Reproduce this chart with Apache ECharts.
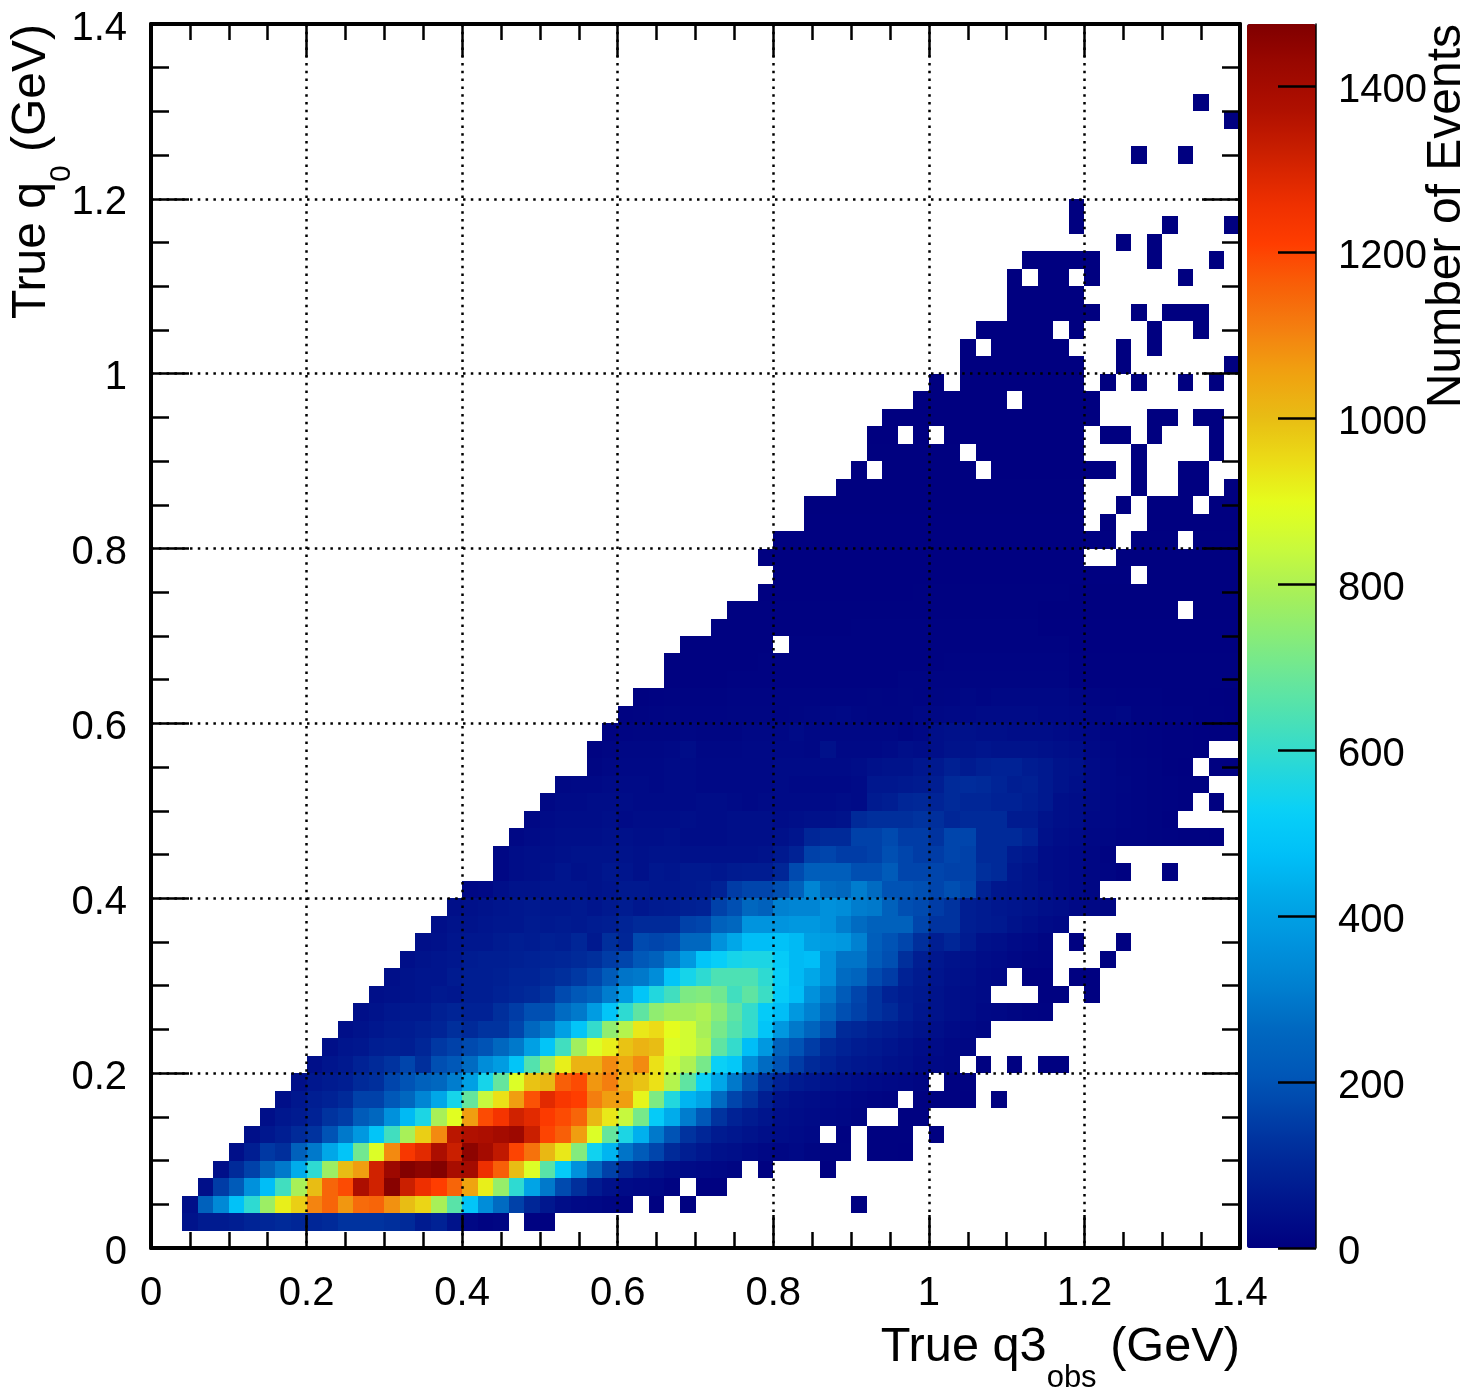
<!DOCTYPE html>
<html><head><meta charset="utf-8">
<style>html,body{margin:0;padding:0;background:#fff}#c{width:1466px;height:1396px}</style>
<script src="https://cdn.jsdelivr.net/npm/echarts@6/dist/echarts.min.js"></script>
</head><body><div id="c"></div>
<script>
// Bin width of the 2D histogram (GeV); each row is [startColumn, counts...] segments.
const binWidth = 0.02;
const row1 = [[2,50,70,70,80,95,100,110,100,100,110,130,130,130,120,110,70,90,50,20,10,15],[24,8,6]];
const row2 = [[2,40,240,340,480,590,770,920,970,1100,1150,1070,1140,1150,1080,1000,960,790,660,490,350,270,160,100,60,35,25,20,15,10],[32,5],[34,4],[45,3]];
const row3 = [[3,40,150,220,360,470,620,790,1000,1150,1190,1380,1310,1460,1320,1260,1210,1150,1050,920,760,590,410,300,180,120,70,45,30,25,20,10],[35,6,4]];
const row4 = [[4,40,110,160,240,300,430,590,770,1000,1060,1310,1420,1470,1450,1470,1390,1400,1260,1160,1000,880,660,510,360,260,160,100,70,50,35,30,25,20,15],[39,5],[43,3]];
const row5 = [[5,40,80,140,120,240,300,420,490,700,880,1090,1230,1280,1380,1320,1450,1400,1340,1200,1130,1010,930,730,540,450,290,220,170,110,80,60,45,40,30,20,18,25,15,10,10],[46,5,5,3]];
const row6 = [[6,40,60,80,110,130,200,300,380,490,620,790,970,1090,1350,1370,1380,1400,1420,1320,1200,1160,1060,880,680,560,440,300,200,130,100,70,60,50,40,35,30,25],[44,8],[46,6,5,4],[50,3]];
const row7 = [[7,40,60,70,90,130,150,220,260,360,460,560,790,890,1060,1190,1240,1310,1280,1220,1190,1150,1010,930,840,710,510,430,310,210,130,90,70,55,40,35,30,25,20,15],[48,5,5]];
const row8 = [[8,40,60,80,90,110,160,160,210,260,330,420,550,680,840,940,1060,1180,1280,1230,1210,1110,1060,1060,910,720,570,450,410,270,170,130,80,50,40,35,30,25,18,14,10],[49,5,5,4,3],[54,2]];
const row9 = [[9,40,60,70,80,110,120,170,200,240,260,310,400,550,680,880,990,1010,1160,1190,1070,1110,1020,990,940,810,670,530,420,300,190,130,90,70,60,50,45,35,30,25,20,15],[51,6,4]];
const row10 = [[10,40,55,65,90,110,130,170,120,190,210,270,350,390,490,650,780,920,1020,1020,1090,1040,1090,940,860,800,710,530,500,350,270,200,150,110,90,70,60,55,45,40,30,25,20],[53,6],[55,3],[57,3,3]];
const row11 = [[11,40,55,60,80,85,80,100,140,160,180,200,260,300,400,490,620,780,880,920,990,1020,1000,880,860,810,670,600,470,380,240,200,150,110,90,75,65,55,45,35,30,22,18]];
const row12 = [[12,40,50,60,70,75,85,95,120,110,130,130,170,260,300,400,490,600,750,810,930,950,900,860,790,710,650,600,490,380,300,250,190,110,100,85,75,60,50,40,30,25,18]];
const row13 = [[13,40,50,60,65,65,85,95,90,90,120,150,190,190,270,300,390,490,590,670,750,780,780,800,740,670,600,510,470,380,320,260,190,160,130,110,80,60,50,40,35,25,20,15,10,8]];
const row14 = [[14,40,45,50,55,65,60,80,80,90,100,110,130,180,210,240,310,390,490,570,620,720,730,700,620,670,610,510,470,360,300,220,170,130,90,75,65,50,40,35,30],[57,5,4],[60,3]];
const row15 = [[15,40,50,55,55,70,80,80,85,95,95,110,120,140,170,220,290,300,350,490,550,590,640,640,640,590,520,460,420,360,270,250,180,150,90,70,55,45,40,30,25],[56,6,5],[59,3,3]];
const row16 = [[16,40,50,55,60,75,80,80,85,90,95,100,110,120,150,170,210,240,300,380,490,520,550,560,560,510,460,470,360,290,290,220,190,120,80,60,50,45,35,30,20,15,12],[61,4]];
const row17 = [[17,40,45,55,60,60,70,80,75,85,80,100,65,120,100,180,170,180,260,260,360,420,470,470,480,460,400,390,380,320,230,200,170,120,80,100,70,45,40,30,25,15],[59,6],[62,3]];
const row18 = [[18,40,50,50,55,60,60,70,65,70,65,75,80,95,110,110,110,160,170,240,260,370,370,370,380,380,360,310,270,240,240,240,170,130,130,80,70,65,50,40,30,25]];
const row19 = [[19,40,45,50,55,60,65,60,60,65,55,65,75,60,70,75,85,90,160,190,260,240,320,330,330,360,350,310,300,240,190,180,150,130,80,70,60,55,50,40,35,25,20,15]];
const row20 = [[20,20,25,40,50,50,55,55,55,50,55,65,65,60,60,65,70,90,150,170,170,190,240,330,270,260,310,270,200,200,190,170,190,170,90,60,55,50,40,30,25,18]];
const row21 = [[22,20,35,40,45,55,45,50,60,55,45,60,55,65,65,60,70,75,75,100,180,230,230,230,190,190,220,170,170,170,160,160,120,110,60,50,35,30,25,18,12,6],[65,3]];
const row22 = [[22,20,35,40,40,45,50,50,50,50,45,50,50,45,45,45,45,45,50,65,90,160,170,150,150,160,190,170,150,150,170,160,110,110,70,60,35,30,25,18,10]];
const row23 = [[23,20,30,35,40,40,40,45,45,40,40,45,35,35,35,40,40,40,45,55,100,110,110,160,160,180,150,150,130,170,170,110,110,110,90,45,35,30,22,18,14,12,10,8,6,5,3]];
const row24 = [[24,20,30,35,35,35,40,30,35,35,35,40,35,35,40,40,40,35,40,45,45,50,110,120,120,120,130,120,100,110,110,110,70,70,50,40,35,25,20,16,12,10,6]];
const row25 = [[25,20,30,30,35,35,35,30,30,30,30,35,35,30,25,30,30,30,30,30,35,30,70,80,100,105,95,110,100,100,90,90,80,65,40,35,28,22,16,12,10,8,5],[68,3]];
const row26 = [[26,20,25,25,30,30,30,25,30,30,25,25,25,25,25,30,25,25,25,25,30,60,60,65,70,80,110,115,110,95,80,85,65,50,40,30,22,18,14,10,8,6,4]];
const row27 = [[28,15,20,25,25,25,30,30,25,25,25,25,25,30,30,30,30,30,35,45,50,50,60,65,85,70,85,90,90,75,65,50,45,30,20,15,12,10,6,3],[68,3,2]];
const row28 = [[28,10,15,20,20,20,25,35,20,20,20,25,25,25,25,20,45,25,25,25,30,40,35,40,50,50,55,50,50,50,45,40,35,25,18,14,10,8,6,4,3]];
const row29 = [[29,8,12,15,15,15,18,15,15,15,20,20,20,30,20,20,20,20,20,20,15,20,40,45,45,40,40,35,35,35,30,25,20,14,12,10,8,6,4,3,2,2]];
const row30 = [[30,8,10,12,15,12,12,12,15,15,15,12,15,18,22,25,18,15,15,15,20,20,25,25,30,30,30,30,25,25,20,18,16,20,10,10,8,8,5,4,3]];
const row31 = [[31,6,8,10,10,10,10,12,12,12,12,12,14,14,14,14,15,14,15,14,15,16,20,16,22,20,20,20,20,15,12,10,8,8,8,5,5,4,3,2]];
const lowerRows = {1:row1,2:row2,3:row3,4:row4,5:row5,6:row6,7:row7,8:row8,9:row9,10:row10,11:row11,12:row12,13:row13,14:row14,15:row15,16:row16,17:row17,18:row18,19:row19,20:row20,21:row21,22:row22,23:row23,24:row24,25:row25,26:row26,27:row27,28:row28,29:row29,30:row30,31:row31};
// Upper rows: nearly flat low counts, as [firstColumn, lastColumn, count] runs.
const upperRuns = {
32:[[33,36,6],[37,47,9],[48,58,13],[59,69,5]],
33:[[33,38,5],[39,50,8],[51,58,11],[59,69,4]],
34:[[34,39,4],[41,50,7],[51,58,9],[59,69,3]],
35:[[36,44,4],[45,56,7],[57,69,3]],
36:[[37,44,4],[45,56,5],[57,65,2],[67,69,2]],
37:[[39,48,3],[49,58,5],[59,69,2]],
38:[[40,62,3],[64,69,2]],
39:[[39,59,3],[62,69,2]],
40:[[40,61,3],[63,65,2],[67,69,2]],
41:[[42,59,3],[61,61,1],[64,69,1]],
42:[[42,59,2],[62,62,1],[64,66,1],[68,69,1]],
43:[[44,59,2],[63,63,1],[66,67,1],[69,69,1]],
44:[[45,45,1],[47,52,2],[54,61,1],[63,63,1],[66,67,1]],
45:[[46,51,2],[53,59,1],[63,63,1],[68,68,1]],
46:[[46,47,1],[49,49,1],[51,59,1],[61,62,1],[64,64,1],[68,68,1]],
47:[[47,60,1],[64,65,1],[67,68,1]],
48:[[49,54,1],[56,60,1]],
49:[[50,50,1],[52,59,1],[61,61,1],[63,63,1],[66,66,1],[68,68,1]],
50:[[52,59,1],[62,62,1],[69,69,1]],
51:[[52,52,1],[54,58,1],[62,62,1],[64,64,1]],
52:[[53,57,1],[59,59,1],[64,64,1],[67,67,1]],
53:[[55,60,1],[63,63,1],[65,67,1]],
54:[[55,59,1]],
55:[[55,55,1],[57,58,1],[60,60,1],[66,66,1]],
56:[[56,60,1],[64,64,1],[68,68,1]],
57:[[62,62,1],[64,64,1]],
58:[[59,59,1],[65,65,1],[69,69,1]],
59:[[59,59,1]],
62:[[63,63,1],[66,66,1]],
64:[[69,69,1]],
65:[[67,67,1]]
};
const paletteColors = ['#000080','#00148c','#002898','#0040a8','#0058b8','#0068c0','#0080d0','#0094de','#00a8e8','#00c0f8','#08d0f8','#28d8d8','#48e0b8','#68e69a','#88ec78','#a8f058','#c8fa3c','#e4ff1e','#ecdc16','#e8bc14','#f0a210','#f48010','#f86008','#ff3c00','#ec2e00','#cc2000','#b01000','#9c0800','#800000'];
const colorMax = 1475;

const cells = [];
for (const j in lowerRows) for (const seg of lowerRows[j]) seg.slice(1).forEach((v,k)=>{ if(v>0) cells.push([(seg[0]+k)*binWidth, (+j)*binWidth, v]); });
for (const j in upperRuns) for (const [a,b,v] of upperRuns[j]) for (let c=a;c<=b;c++) cells.push([c*binWidth,(+j)*binWidth,v]);

const font = 'Liberation Sans';
const labelStyle = {fontFamily:font,fontSize:40,color:'#000'};
const lowered = {v:{fontFamily:font,fontSize:40,color:'#000',lineHeight:49,verticalAlign:'bottom'}};
const lowerLabel = v=>'{v|'+v+'}';
const dotted = {show:true,lineStyle:{color:'#000',width:2.5,type:[2.5,5.3]},showMinLine:false,showMaxLine:false};
const line = {show:true,onZero:false,lineStyle:{color:'#000',width:4}};
const richX = {
  a:{fontFamily:font,fontSize:48.7,color:'#000',lineHeight:52,verticalAlign:'top'},
  b:{fontFamily:font,fontSize:31,color:'#000',lineHeight:71,verticalAlign:'bottom'}
};
const richY = {
  a:{fontFamily:font,fontSize:48,color:'#000',lineHeight:52,verticalAlign:'top'},
  b:{fontFamily:font,fontSize:30,color:'#000',lineHeight:69,verticalAlign:'bottom'}
};
const base = {type:'value',min:0,max:1.4,interval:0.2,z:5,axisLine:line};
const xTick = {show:true,inside:true,length:33,lineStyle:{color:'#000',width:2.5}};
const xMinor = {show:true,splitNumber:4,length:16,lineStyle:{color:'#000',width:2.5}};
const yTick = {show:true,inside:true,length:38,lineStyle:{color:'#000',width:2.5}};
const yMinor = {show:true,splitNumber:4,length:18,lineStyle:{color:'#000',width:2.5}};

const chart = echarts.init(document.getElementById('c'));
chart.setOption({
  animation:false,
  backgroundColor:'#fff',
  grid:[{left:151,top:24,width:1089,height:1224,outerBoundsMode:'none'},{left:1247,top:24,width:69,height:1224,outerBoundsMode:'none'}],
  xAxis:[
    Object.assign({},base,{gridIndex:0,position:'bottom',axisTick:xTick,minorTick:xMinor,splitLine:dotted,
      axisLabel:Object.assign({},labelStyle,{margin:26,showMinLabel:true,showMaxLabel:true}),
      name:'{a|True q3}{b|obs}{a| (GeV)}',nameLocation:'end',nameGap:0,nameMoveOverlap:false,
      nameTextStyle:{align:'right',verticalAlign:'top',padding:[75,0,0,0],rich:richX}}),
    Object.assign({},base,{gridIndex:0,position:'top',axisTick:xTick,minorTick:xMinor,splitLine:{show:false},axisLabel:{show:false}}),
    {type:'value',gridIndex:1,min:0,max:1,show:false}
  ],
  yAxis:[
    Object.assign({},base,{gridIndex:0,position:'left',axisTick:yTick,minorTick:yMinor,splitLine:dotted,
      axisLabel:{margin:24,showMinLabel:true,showMaxLabel:true,formatter:lowerLabel,rich:lowered},
      name:'{a|True q}{b|0}{a| (GeV)}',nameLocation:'end',nameRotate:90,nameGap:0,nameMoveOverlap:false,
      nameTextStyle:{align:'right',verticalAlign:'bottom',padding:[0,0,74,0],rich:richY}}),
    Object.assign({},base,{gridIndex:0,position:'right',axisTick:yTick,minorTick:yMinor,splitLine:{show:false},axisLabel:{show:false}}),
    {type:'value',gridIndex:1,position:'right',min:0,max:colorMax,interval:200,z:6,
      axisLine:{show:true,onZero:false,lineStyle:{color:'#000',width:1.5}},
      axisTick:{show:true,inside:true,length:38,lineStyle:{color:'#000',width:2.5}},
      minorTick:{show:false},splitLine:{show:false},
      axisLabel:{margin:22,showMaxLabel:false,formatter:lowerLabel,rich:lowered},
      name:'Number of Events',nameLocation:'end',nameRotate:90,nameGap:0,nameMoveOverlap:false,
      nameTextStyle:{fontFamily:font,fontSize:48,color:'#000',align:'right',verticalAlign:'top',padding:[107,0,0,0]}}
  ],
  visualMap:{type:'continuous',seriesIndex:0,dimension:2,min:0,max:colorMax,left:1247,top:24,padding:0,
    itemWidth:69,itemHeight:1224,calculable:false,hoverLink:false,text:['',''],showLabel:false,
    inRange:{color:paletteColors},outOfRange:{color:paletteColors[0]}},
  series:[{
    type:'custom',coordinateSystem:'cartesian2d',xAxisIndex:0,yAxisIndex:0,z:2,clip:true,
    data:cells,encode:{x:0,y:1},
    renderItem:(p,api)=>{
      const a=api.coord([api.value(0),api.value(1)+binWidth]);
      const b=api.coord([api.value(0)+binWidth,api.value(1)]);
      const x0=Math.round(a[0]),y0=Math.round(a[1]),x1=Math.round(b[0]),y1=Math.round(b[1]);
      return {type:'rect',shape:{x:x0,y:y0,width:x1-x0,height:y1-y0},style:{fill:api.visual('color')}};
    }
  }]
});
</script></body></html>
